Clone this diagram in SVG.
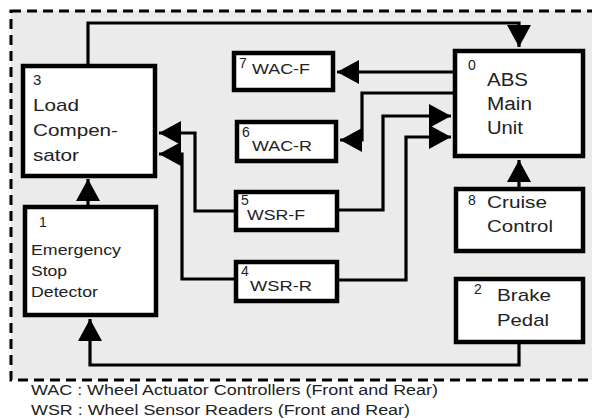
<svg xmlns="http://www.w3.org/2000/svg" width="592" height="420" viewBox="0 0 592 420">
<style>
.box{fill:#fff;stroke:#000;stroke-width:4.5}
.t{font-family:"Liberation Sans",Arial,sans-serif;fill:#222}
.conn path{fill:none;stroke:#000;stroke-width:3.2}
</style>
<defs>
<marker id="ah" markerUnits="userSpaceOnUse" markerWidth="24" markerHeight="26" refX="22" refY="12" orient="auto">
<path d="M0,0 L22,12 L0,24 z" fill="#000"/>
</marker>
</defs>
<rect x="0" y="0" width="592" height="420" fill="#fff"/>
<rect x="11" y="11" width="600" height="369" fill="#ebebeb" stroke="#000" stroke-width="3" stroke-dasharray="10,6"/>
<g class="conn">
<path d="M88,64 V23 H519 V47" marker-end="url(#ah)"/>
<path d="M88,205 V179" marker-end="url(#ah)"/>
<path d="M519,344 V365 H90 V319" marker-end="url(#ah)"/>
<path d="M519,187 V160" marker-end="url(#ah)"/>
<path d="M453,72 H337" marker-end="url(#ah)"/>
<path d="M453,93 H362 V140 H340" marker-end="url(#ah)"/>
<path d="M339,210 H383 V116 H451" marker-end="url(#ah)"/>
<path d="M339,280 H406 V137 H451" marker-end="url(#ah)"/>
<path d="M234,211 H195 V133 H159" marker-end="url(#ah)"/>
<path d="M234,279 H182 V154 H159" marker-end="url(#ah)"/>
</g>
<g id="n3">
<rect class="box" x="23" y="66" width="132" height="110"/>
<text class="t" x="33" y="85" font-size="15">3</text>
<text class="t" x="33" y="111" font-size="17" textLength="46" lengthAdjust="spacingAndGlyphs">Load</text>
<text class="t" x="33" y="136" font-size="17" textLength="85" lengthAdjust="spacingAndGlyphs">Compen-</text>
<text class="t" x="33" y="161" font-size="17" textLength="46" lengthAdjust="spacingAndGlyphs">sator</text>
</g>
<g id="n1">
<rect class="box" x="25" y="207" width="131" height="108"/>
<text class="t" x="39" y="227" font-size="14">1</text>
<text class="t" x="31" y="255" font-size="15" textLength="90" lengthAdjust="spacingAndGlyphs">Emergency</text>
<text class="t" x="31" y="276" font-size="15" textLength="36" lengthAdjust="spacingAndGlyphs">Stop</text>
<text class="t" x="31" y="297" font-size="15" textLength="67" lengthAdjust="spacingAndGlyphs">Detector</text>
</g>
<g id="n0">
<rect class="box" x="455" y="51" width="128" height="105"/>
<text class="t" x="468" y="70" font-size="14">0</text>
<text class="t" x="487" y="86" font-size="18" textLength="41" lengthAdjust="spacingAndGlyphs">ABS</text>
<text class="t" x="487" y="110" font-size="18" textLength="45" lengthAdjust="spacingAndGlyphs">Main</text>
<text class="t" x="487" y="134" font-size="18" textLength="36" lengthAdjust="spacingAndGlyphs">Unit</text>
</g>
<g id="n7">
<rect class="box" x="234" y="53" width="99" height="37"/>
<text class="t" x="239" y="68" font-size="14">7</text>
<text class="t" x="252" y="74" font-size="15" textLength="58" lengthAdjust="spacingAndGlyphs">WAC-F</text>
</g>
<g id="n6">
<rect class="box" x="237" y="122" width="99" height="39"/>
<text class="t" x="242" y="137" font-size="14">6</text>
<text class="t" x="252" y="151" font-size="15" textLength="60" lengthAdjust="spacingAndGlyphs">WAC-R</text>
</g>
<g id="n5">
<rect class="box" x="236" y="192" width="101" height="38"/>
<text class="t" x="241" y="205" font-size="14">5</text>
<text class="t" x="247" y="220" font-size="15" textLength="58" lengthAdjust="spacingAndGlyphs">WSR-F</text>
</g>
<g id="n4">
<rect class="box" x="236" y="262" width="101" height="39"/>
<text class="t" x="241" y="276" font-size="14">4</text>
<text class="t" x="250" y="291" font-size="15" textLength="62" lengthAdjust="spacingAndGlyphs">WSR-R</text>
</g>
<g id="n8">
<rect class="box" x="456" y="189" width="127" height="62"/>
<text class="t" x="468" y="205" font-size="14">8</text>
<text class="t" x="487" y="208" font-size="17" textLength="60" lengthAdjust="spacingAndGlyphs">Cruise</text>
<text class="t" x="487" y="232" font-size="17" textLength="66" lengthAdjust="spacingAndGlyphs">Control</text>
</g>
<g id="n2">
<rect class="box" x="456" y="279" width="127" height="63"/>
<text class="t" x="474" y="294" font-size="14">2</text>
<text class="t" x="497" y="301" font-size="17" textLength="54" lengthAdjust="spacingAndGlyphs">Brake</text>
<text class="t" x="497" y="326" font-size="17" textLength="52" lengthAdjust="spacingAndGlyphs">Pedal</text>
</g>
<g id="legend">
<text class="t" x="31" y="395" font-size="15.5" textLength="407" lengthAdjust="spacingAndGlyphs">WAC : Wheel Actuator Controllers (Front and Rear)</text>
<text class="t" x="31" y="415" font-size="15.5" textLength="379" lengthAdjust="spacingAndGlyphs">WSR : Wheel Sensor Readers (Front and Rear)</text>
</g>
</svg>
